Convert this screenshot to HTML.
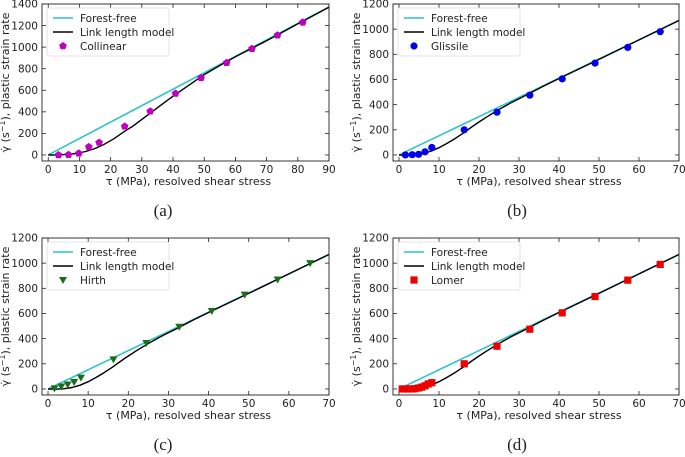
<!DOCTYPE html>
<html><head><meta charset="utf-8"><style>
body{margin:0;background:#fff}
svg{display:block;font-family:"DejaVu Sans","Liberation Sans",sans-serif}
</style></head><body>
<svg id="fig" width="685" height="457" viewBox="0 0 685 457" xmlns="http://www.w3.org/2000/svg"></svg>
<script>
const NS="http://www.w3.org/2000/svg";
// data
const linkXA=[0,3,6,9,12,15,18,21,24,27,30,33,36,40,45,50,55,60,70,80,90];
const linkYA=[0,1,5,14,32,60,100,150,210,265,330,395,460,545,645,745,830,910,1060,1215,1370];
const linkXB=[0,2,4,6,8,10,12,14,16,18,20,22,24,26,28,30,32,36,40,50,60,70];
const linkYB=[0,-2,2,12,30,58,92,130,172,218,262,303,342,380,415,447,478,545,608,760,915,1070];
const freeSlope=15.25;
const collX=[3.3,6.5,9.8,13,16.3,24.5,32.7,40.8,49,57.2,65.3,73.5,81.6];
const collY=[0,2,15,75,115,265,405,570,715,855,985,1110,1230];
const gliX=[1.6,3.3,4.9,6.5,8.2,16.3,24.5,32.7,40.8,49,57.2,65.3];
const gliY=[0,2,5,25,60,200,340,475,605,730,855,980];
const hirX=[1.6,3.3,4.9,6.5,8.2,16.3,24.5,32.7,40.8,49,57.2,65.3];
const hirY=[5,20,35,55,90,235,365,495,620,750,870,1000];
const lomX=[0.8,1.6,2.4,3.3,4,4.9,5.7,6.5,7.3,8.2,16.3,24.5,32.7,40.8,49,57.2,65.3];
const lomY=[0,0,0,0,2,8,15,25,40,50,200,340,475,605,735,865,990];
const ticksA_X=[0,10,20,30,40,50,60,70,80,90];
const ticksA_Y=[0,200,400,600,800,1000,1200,1400];
const ticksB_X=[0,10,20,30,40,50,60,70];
const ticksB_Y=[0,200,400,600,800,1000,1200];

const svg=document.getElementById('fig');
function el(tag,attrs,parent){const e=document.createElementNS(NS,tag);for(const k in attrs)e.setAttribute(k,attrs[k]);(parent||svg).appendChild(e);return e;}
function txt(s,attrs,parent){const e=el('text',attrs,parent);e.textContent=s;return e;}

const panels=[
 {id:'a',L:42,R:329,T:4,B:161,xmin:-2,xmax:90,ymin:-56,ymax:1400,tx:ticksA_X,ty:ticksA_Y,lx:linkXA,ly:linkYA,mx:collX,my:collY,name:'Collinear',color:'#c000c0',shape:'pent',cap:'(a)',cx:163,cy:216},
 {id:'b',L:393,R:679,T:4,B:161,xmin:-1.5,xmax:70,ymin:-48,ymax:1200,tx:ticksB_X,ty:ticksB_Y,lx:linkXB,ly:linkYB,mx:gliX,my:gliY,name:'Glissile',color:'#0000ee',shape:'circle',cap:'(b)',cx:517,cy:216},
 {id:'c',L:42,R:329,T:238,B:395,xmin:-1.5,xmax:70,ymin:-48,ymax:1200,tx:ticksB_X,ty:ticksB_Y,lx:linkXB,ly:linkYB,mx:hirX,my:hirY,name:'Hirth',color:'#1a6e1a',shape:'tri',cap:'(c)',cx:163,cy:450},
 {id:'d',L:393,R:679,T:238,B:395,xmin:-1.5,xmax:70,ymin:-48,ymax:1200,tx:ticksB_X,ty:ticksB_Y,lx:linkXB,ly:linkYB,mx:lomX,my:lomY,name:'Lomer',color:'#ee0000',shape:'square',cap:'(d)',cx:517,cy:450}
];

function marker(g,shape,x,y,c){
 let m;
 if(shape==='circle')m=el('circle',{cx:x,cy:y,r:3.6,fill:c},g);
 else if(shape==='square')m=el('rect',{x:x-3.6,y:y-3.6,width:7.2,height:7.2,fill:c},g);
 else if(shape==='tri')m=el('polygon',{points:`${x-4},${y-3} ${x+4},${y-3} ${x},${y+4}`,fill:c},g);
 else{let p=[];for(let i=0;i<5;i++){const a=-Math.PI/2+i*2*Math.PI/5;p.push((x+4*Math.cos(a)).toFixed(1)+','+(y+4*Math.sin(a)).toFixed(1));}m=el('polygon',{points:p.join(' '),fill:c},g);}
 return m;
}

panels.forEach(p=>{
 const g=el('g',{});
 
 
 const sx=v=>p.L+(v-p.xmin)/(p.xmax-p.xmin)*(p.R-p.L);
 const sy=v=>p.B-(v-p.ymin)/(p.ymax-p.ymin)*(p.B-p.T);
 const clip=el('clipPath',{id:'clip'+p.id},g);
 el('rect',{x:p.L,y:p.T,width:p.R-p.L,height:p.B-p.T},clip);
 p.tx.forEach(t=>{
  const x=sx(t);
  el('line',{x1:x,y1:p.B,x2:x,y2:p.B-4,stroke:'#222','stroke-width':0.8},g);
  el('line',{x1:x,y1:p.T,x2:x,y2:p.T+4,stroke:'#222','stroke-width':0.8},g);
  const l=txt(String(t),{x:x,y:p.B+12,'font-size':10.5,'text-anchor':'middle',fill:'#222'},g);
  
  
 });
 p.ty.forEach(t=>{
  const y=sy(t);
  el('line',{x1:p.L,y1:y,x2:p.L+4,y2:y,stroke:'#222','stroke-width':0.8},g);
  el('line',{x1:p.R,y1:y,x2:p.R-4,y2:y,stroke:'#222','stroke-width':0.8},g);
  const l=txt(String(t),{x:p.L-4,y:y+3.7,'font-size':10.5,'text-anchor':'end',fill:'#222'},g);
  
  
 });
 const cg=el('g',{'clip-path':`url(#clip${p.id})`},g);
 const ff=el('line',{x1:sx(0),y1:sy(0),x2:sx(p.xmax),y2:sy(freeSlope*p.xmax),stroke:'#2ec4c4','stroke-width':1.6},cg);
 
 
 const pts=p.lx.map((x,i)=>sx(x).toFixed(1)+','+sy(p.ly[i]).toFixed(1)).join(' ');
 const lk=el('polyline',{points:pts,fill:'none',stroke:'#000','stroke-width':1.4,'stroke-linejoin':'round'},cg);
 
 
 p.mx.forEach((x,i)=>{
  const m=marker(cg,p.shape,sx(x),sy(p.my[i]),p.color);
  
  
 });
 const fr=el('rect',{x:p.L,y:p.T,width:p.R-p.L,height:p.B-p.T,fill:'none',stroke:'#222','stroke-width':0.9},g);
 
 
 const lg=el('g',{},g);
 
 
 const lx=p.L+5,ly=p.T+4;
 el('rect',{x:lx,y:ly,width:122,height:48,fill:'#fff',stroke:'#ddd','stroke-width':0.8,rx:2},lg);
 el('line',{x1:lx+6,y1:ly+10,x2:lx+26,y2:ly+10,stroke:'#2ec4c4','stroke-width':1.6},lg);
 txt('Forest-free',{x:lx+33,y:ly+14,'font-size':10.5,fill:'#222'},lg);
 el('line',{x1:lx+6,y1:ly+24,x2:lx+26,y2:ly+24,stroke:'#000','stroke-width':1.4},lg);
 txt('Link length model',{x:lx+33,y:ly+28,'font-size':10.5,fill:'#222'},lg);
 marker(lg,p.shape,lx+16,ly+38,p.color);
 txt(p.name,{x:lx+33,y:ly+42,'font-size':10.5,fill:'#222'},lg);
 const xt=txt('τ (MPa), resolved shear stress',{x:(p.L+p.R)/2+3,y:p.B+24,'font-size':11,'text-anchor':'middle',fill:'#222'},g);
 
 
 const yx=p.L-33,yy=(p.T+p.B)/2;
 const yt=el('text',{x:yx,y:yy,'font-size':11,'text-anchor':'middle',fill:'#222',transform:`rotate(-90 ${yx} ${yy})`},g);
 
 
 yt.innerHTML='γ̇ (s<tspan font-size="8" dy="-4">−1</tspan><tspan dy="4">), plastic strain rate</tspan>';
 const cp=txt(p.cap,{x:p.cx,y:p.cy,'font-size':17,'text-anchor':'middle',fill:'#222','font-family':'"Liberation Serif",serif'},g);
 
 
});
</script>
</body></html>
